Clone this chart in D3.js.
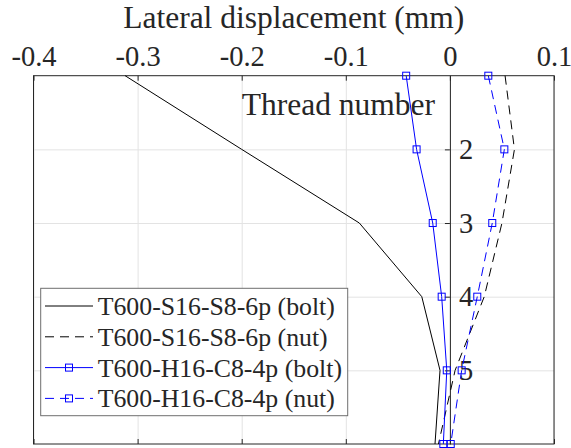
<!DOCTYPE html>
<html>
<head>
<meta charset="utf-8">
<script src="https://cdn.jsdelivr.net/npm/d3@7"></script>
<style>
  body { margin: 0; background: #fff; }
</style>
</head>
<body>
<div id="chart"></div>
<script>
// thread numbers (y) and lateral displacement in mm (x)
var threads = [1, 2, 3, 4, 5, 6];
var s16Bolt = [-0.312, -0.200, -0.087, -0.027, -0.0095, -0.0143];
var s16Nut = [0.053, 0.062, 0.050, 0.033, 0.005, -0.011];
var h16Bolt = [-0.042, -0.032, -0.0165, -0.0079, -0.003, -0.0063];
var h16Nut = [0.0369, 0.0523, 0.0407, 0.0263, 0.0113, 0.0008];

var xTicks = [-0.4, -0.3, -0.2, -0.1, 0, 0.1];
var yTicks = [2, 3, 4, 5];
var seriesNames = ["T600-S16-S8-6p (bolt)", "T600-S16-S8-6p (nut)", "T600-H16-C8-4p (bolt)", "T600-H16-C8-4p (nut)"];

var W = 571, H = 448;
// plot box edges (note: "top" is taken by window.top)
var pL = 33.5, pR = 554, pT = 75.7, pB = 444;
var serif = '"Liberation Serif"';
var ink = '#262626';

var svg = d3.select('#chart').append('svg').attr('width', W).attr('height', H);

var x = d3.scaleLinear().domain([-0.4, 0.1]).range([pL, pR]);
var y = d3.scaleLinear().domain([1, 6]).range([pT, pB]);

// grid
svg.append('g')
    .attr('transform', 'translate(0,' + pT + ')')
    .call(d3.axisTop(x).tickValues(xTicks).tickSize(-(pB - pT)).tickFormat(''))
    .call(function(g) {
        g.select('.domain').remove();
        g.selectAll('line').attr('stroke', '#e3e3e3');
    });
svg.append('g')
    .attr('transform', 'translate(' + pL + ',0)')
    .call(d3.axisLeft(y).tickValues(yTicks).tickSize(-(pR - pL)).tickFormat(''))
    .call(function(g) {
        g.select('.domain').remove();
        g.selectAll('line').attr('stroke', '#e3e3e3');
    });

// box
svg.append('rect')
    .attr('x', pL).attr('y', pT)
    .attr('width', pR - pL).attr('height', pB - pT)
    .attr('fill', 'none').attr('stroke', ink);

// top axis with labels
var fmt = function(d) { return d === 0 ? '0' : d.toFixed(1); };
svg.append('g')
    .attr('transform', 'translate(0,' + pT + ')')
    .call(d3.axisTop(x).tickValues(xTicks).tickSizeInner(-5).tickSizeOuter(0).tickPadding(10).tickFormat(fmt))
    .call(function(g) {
        g.select('.domain').remove();
        g.selectAll('line').attr('stroke', ink);
        g.selectAll('text').attr('fill', ink)
            .style('font-size', '28.5px').style('font-family', serif);
    });

// bottom ticks
svg.append('g')
    .attr('transform', 'translate(0,' + pB + ')')
    .call(d3.axisBottom(x).tickValues(xTicks).tickSizeInner(-5).tickSizeOuter(0).tickFormat(''))
    .call(function(g) {
        g.select('.domain').remove();
        g.selectAll('line').attr('stroke', ink);
    });

// y axis at x = 0
svg.append('g')
    .attr('transform', 'translate(' + x(0) + ',0)')
    .call(d3.axisRight(y).tickValues(yTicks).tickSizeInner(-5).tickSizeOuter(0).tickPadding(9).tickFormat(d3.format('d')))
    .call(function(g) {
        g.select('.domain').attr('stroke', ink);
        g.selectAll('line').attr('stroke', ink);
        g.selectAll('text').attr('fill', ink)
            .style('font-size', '28.5px').style('font-family', serif);
    });

// labels
svg.append('text')
    .attr('x', (pL + pR) / 2).attr('y', 28)
    .attr('text-anchor', 'middle').attr('fill', ink)
    .style('font-size', '31.5px').style('font-family', serif)
    .text('Lateral displacement (mm)');
svg.append('text')
    .attr('x', 435).attr('y', 115)
    .attr('text-anchor', 'end').attr('fill', ink)
    .style('font-size', '31.5px').style('font-family', serif)
    .text('Thread number');

// series
var series = [
    { name: seriesNames[0], values: s16Bolt, color: '#000000', dash: null, marker: false },
    { name: seriesNames[1], values: s16Nut, color: '#000000', dash: '9,6', marker: false },
    { name: seriesNames[2], values: h16Bolt, color: '#0000ff', dash: null, marker: true },
    { name: seriesNames[3], values: h16Nut, color: '#0000ff', dash: '9,6', marker: true }
];

var line = d3.line()
    .x(function(d) { return x(d.v); })
    .y(function(d) { return y(d.t); });

var ms = 7;
series.forEach(function(s) {
    var pts = threads.map(function(t, i) { return { t: t, v: s.values[i] }; });
    svg.append('path')
        .datum(pts)
        .attr('d', line)
        .attr('fill', 'none')
        .attr('stroke', s.color)
        .attr('stroke-width', 1)
        .attr('stroke-dasharray', s.dash);
    if (s.marker) {
        svg.append('g').selectAll('rect')
            .data(pts)
            .enter()
            .append('rect')
            .attr('x', function(d) { return x(d.v) - ms / 2; })
            .attr('y', function(d) { return y(d.t) - ms / 2; })
            .attr('width', ms).attr('height', ms)
            .attr('fill', 'none').attr('stroke', s.color).attr('stroke-width', 1);
    }
});

// legend
var lg = svg.append('g');
lg.append('rect')
    .attr('x', 40.7).attr('y', 288.3)
    .attr('width', 307).attr('height', 127.4)
    .attr('fill', '#fff').attr('stroke', '#6e6e6e');

series.forEach(function(s, i) {
    var cy = 306 + i * 30.8;
    lg.append('line')
        .attr('x1', 45).attr('x2', 93).attr('y1', cy).attr('y2', cy)
        .attr('stroke', s.color).attr('stroke-dasharray', s.dash);
    if (s.marker) {
        lg.append('rect')
            .attr('x', 69 - ms / 2).attr('y', cy - ms / 2)
            .attr('width', ms).attr('height', ms)
            .attr('fill', 'none').attr('stroke', s.color);
    }
    lg.append('text')
        .attr('x', 97.7).attr('y', cy + 9).attr('fill', ink)
        .style('font-size', '25.8px').style('font-family', serif)
        .text(s.name);
});
</script>
</body>
</html>
